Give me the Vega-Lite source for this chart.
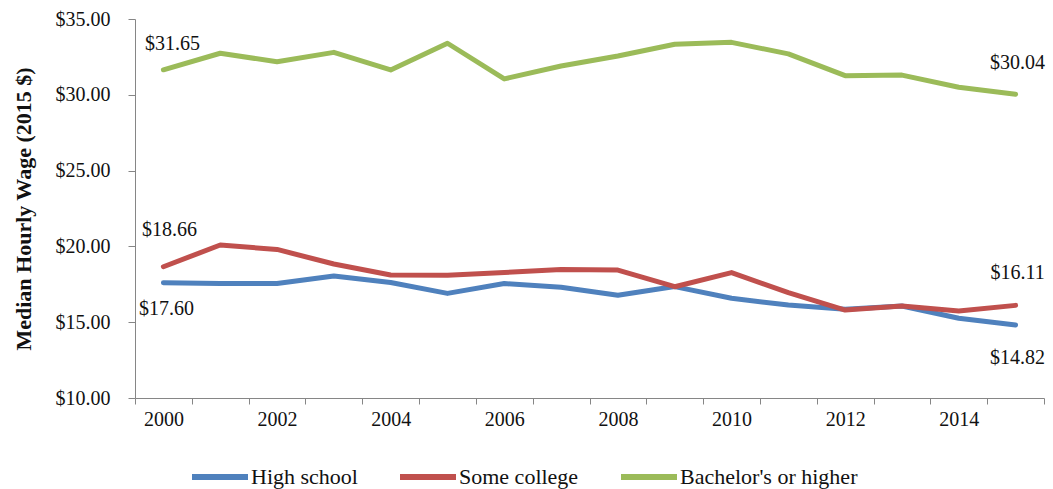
{
  "$schema": "https://vega.github.io/schema/vega-lite/v6.json",
  "autosize": "none",
  "width": 909,
  "height": 379,
  "padding": {"left": 135, "top": 19, "right": 9, "bottom": 91},
  "background": "white",
  "config": {
    "font": "Liberation Serif",
    "view": {"stroke": null},
    "style": {"guide-label": {"font": "Liberation Serif"}, "guide-title": {"font": "Liberation Serif"}},
    "axis": {"labelFont": "Liberation Serif", "titleFont": "Liberation Serif", "labelColor": "#111", "titleColor": "#111", "domainColor": "#868686", "tickColor": "#868686", "grid": false},
    "legend": {"labelFont": "Liberation Serif", "labelFontSize": 22, "labelLimit": 400, "labelColor": "#111"}
  },
  "data": {
    "values": [
      {"year": 2000, "series": "High school", "wage": 17.60, "label": "$17.60"},
      {"year": 2001, "series": "High school", "wage": 17.55},
      {"year": 2002, "series": "High school", "wage": 17.55},
      {"year": 2003, "series": "High school", "wage": 18.05},
      {"year": 2004, "series": "High school", "wage": 17.62},
      {"year": 2005, "series": "High school", "wage": 16.90},
      {"year": 2006, "series": "High school", "wage": 17.55},
      {"year": 2007, "series": "High school", "wage": 17.30},
      {"year": 2008, "series": "High school", "wage": 16.78},
      {"year": 2009, "series": "High school", "wage": 17.35},
      {"year": 2010, "series": "High school", "wage": 16.58},
      {"year": 2011, "series": "High school", "wage": 16.13},
      {"year": 2012, "series": "High school", "wage": 15.85},
      {"year": 2013, "series": "High school", "wage": 16.07},
      {"year": 2014, "series": "High school", "wage": 15.26},
      {"year": 2015, "series": "High school", "wage": 14.82, "label": "$14.82"},
      {"year": 2000, "series": "Some college", "wage": 18.66, "label": "$18.66"},
      {"year": 2001, "series": "Some college", "wage": 20.09},
      {"year": 2002, "series": "Some college", "wage": 19.80},
      {"year": 2003, "series": "Some college", "wage": 18.84},
      {"year": 2004, "series": "Some college", "wage": 18.11},
      {"year": 2005, "series": "Some college", "wage": 18.10},
      {"year": 2006, "series": "Some college", "wage": 18.28},
      {"year": 2007, "series": "Some college", "wage": 18.48},
      {"year": 2008, "series": "Some college", "wage": 18.44},
      {"year": 2009, "series": "Some college", "wage": 17.34},
      {"year": 2010, "series": "Some college", "wage": 18.27},
      {"year": 2011, "series": "Some college", "wage": 16.95},
      {"year": 2012, "series": "Some college", "wage": 15.80},
      {"year": 2013, "series": "Some college", "wage": 16.07},
      {"year": 2014, "series": "Some college", "wage": 15.74},
      {"year": 2015, "series": "Some college", "wage": 16.11, "label": "$16.11"},
      {"year": 2000, "series": "Bachelor's or higher", "wage": 31.65, "label": "$31.65"},
      {"year": 2001, "series": "Bachelor's or higher", "wage": 32.74},
      {"year": 2002, "series": "Bachelor's or higher", "wage": 32.18},
      {"year": 2003, "series": "Bachelor's or higher", "wage": 32.80},
      {"year": 2004, "series": "Bachelor's or higher", "wage": 31.64},
      {"year": 2005, "series": "Bachelor's or higher", "wage": 33.40},
      {"year": 2006, "series": "Bachelor's or higher", "wage": 31.05},
      {"year": 2007, "series": "Bachelor's or higher", "wage": 31.90},
      {"year": 2008, "series": "Bachelor's or higher", "wage": 32.56},
      {"year": 2009, "series": "Bachelor's or higher", "wage": 33.33},
      {"year": 2010, "series": "Bachelor's or higher", "wage": 33.46},
      {"year": 2011, "series": "Bachelor's or higher", "wage": 32.70},
      {"year": 2012, "series": "Bachelor's or higher", "wage": 31.26},
      {"year": 2013, "series": "Bachelor's or higher", "wage": 31.30},
      {"year": 2014, "series": "Bachelor's or higher", "wage": 30.50},
      {"year": 2015, "series": "Bachelor's or higher", "wage": 30.04, "label": "$30.04"}
    ]
  },
  "encoding": {
    "x": {
      "field": "year", "type": "ordinal",
      "scale": {"type": "band", "paddingInner": 0, "paddingOuter": 0},
      "axis": {"title": null, "labelAngle": 0, "tickBand": "extent", "tickSize": 6, "labelPadding": 5, "labelFontSize": 20, "labelExpr": "datum.value % 2 == 0 ? datum.label : ''"}
    },
    "y": {
      "field": "wage", "type": "quantitative",
      "scale": {"domain": [10, 35], "nice": false, "zero": false},
      "axis": {"values": [10, 15, 20, 25, 30, 35], "format": "$.2f", "tickSize": 7, "labelPadding": 18, "labelFontSize": 20, "title": "Median Hourly Wage (2015 $)", "titleFontSize": 22, "titleFontWeight": "bold", "titlePadding": 20}
    }
  },
  "layer": [
    {
      "mark": {"type": "line", "strokeWidth": 5, "strokeCap": "round", "strokeJoin": "round"},
      "encoding": {
        "color": {
          "field": "series", "type": "nominal",
          "scale": {"domain": ["High school", "Some college", "Bachelor's or higher"], "range": ["#4F81BD", "#C0504D", "#9BBB59"]},
          "legend": {"title": null, "orient": "none", "direction": "horizontal", "legendX": 54, "legendY": 427, "symbolType": "stroke", "symbolStrokeWidth": 6, "symbolSize": 3136, "labelFontSize": 22, "labelFont": "Liberation Serif", "labelLimit": 400, "labelColor": "#111", "columnPadding": 30, "labelOffset": 0}
        }
      }
    },
    {
      "transform": [{"filter": "datum.series == 'Bachelor\\'s or higher' && datum.year == 2000"}],
      "mark": {"type": "text", "fontSize": 20, "dx": 9, "dy": -26, "color": "#111"},
      "encoding": {"text": {"field": "label"}}
    },
    {
      "transform": [{"filter": "datum.series == 'Bachelor\\'s or higher' && datum.year == 2015"}],
      "mark": {"type": "text", "fontSize": 20, "dx": 2, "dy": -31, "color": "#111"},
      "encoding": {"text": {"field": "label"}}
    },
    {
      "transform": [{"filter": "datum.series == 'Some college' && datum.year == 2000"}],
      "mark": {"type": "text", "fontSize": 20, "dx": 6, "dy": -37, "color": "#111"},
      "encoding": {"text": {"field": "label"}}
    },
    {
      "transform": [{"filter": "datum.series == 'Some college' && datum.year == 2015"}],
      "mark": {"type": "text", "fontSize": 20, "dx": 2, "dy": -32, "color": "#111"},
      "encoding": {"text": {"field": "label"}}
    },
    {
      "transform": [{"filter": "datum.series == 'High school' && datum.year == 2000"}],
      "mark": {"type": "text", "fontSize": 20, "dx": 3, "dy": 26, "color": "#111"},
      "encoding": {"text": {"field": "label"}}
    },
    {
      "transform": [{"filter": "datum.series == 'High school' && datum.year == 2015"}],
      "mark": {"type": "text", "fontSize": 20, "dx": 2, "dy": 33, "color": "#111"},
      "encoding": {"text": {"field": "label"}}
    }
  ]
}
